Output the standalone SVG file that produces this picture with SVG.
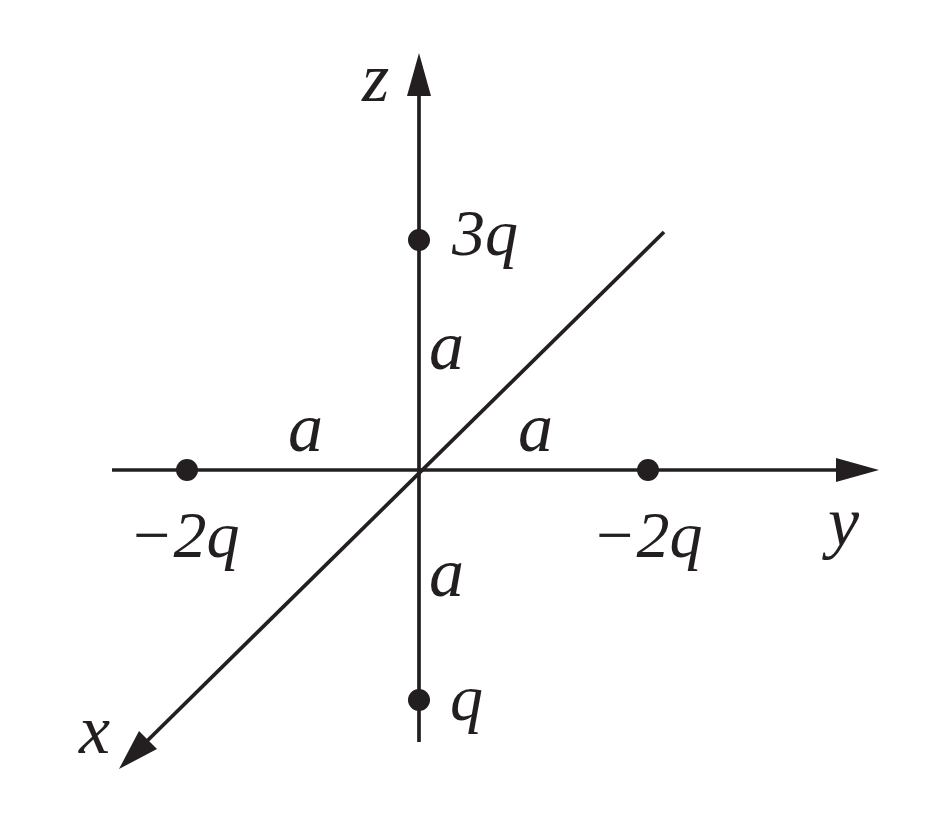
<svg xmlns="http://www.w3.org/2000/svg" width="934" height="827" viewBox="0 0 934 827">
<style>
.ax{stroke:#231f20;stroke-width:3.7;fill:none}
.hd{fill:#231f20}
.dot{fill:#231f20}
text{font-family:"Liberation Serif","Times New Roman",serif;font-style:italic;font-size:66px;fill:#231f20}
.big{font-size:70px}
</style>
<rect width="934" height="827" fill="#fff"/>
<g id="connectors">
<line class="ax" x1="419" y1="742" x2="419" y2="90"/>
<polygon class="hd" points="419,53 407,96 431,96"/>
<line class="ax" x1="112" y1="470" x2="840" y2="470"/>
<polygon class="hd" points="879,470 836,458 836,482"/>
<line class="ax" x1="664" y1="232" x2="145" y2="743"/>
<polygon class="hd" points="119,769 139,731 157,749"/>
</g>
<g id="axis-z"><text class="big" x="362" y="101">z</text></g>
<g id="axis-y"><text class="big" x="828" y="545">y</text></g>
<g id="axis-x"><text class="big" x="79" y="753">x</text></g>
<g id="charge-3q"><circle class="dot" cx="419" cy="240" r="11"/><text x="452" y="255">3q</text></g>
<g id="charge-q"><circle class="dot" cx="419" cy="700" r="11"/><text x="450" y="720">q</text></g>
<g id="charge-left"><circle class="dot" cx="187" cy="470" r="11"/><text x="129" y="557">−2q</text></g>
<g id="charge-right"><circle class="dot" cx="648" cy="470" r="11"/><text x="592" y="557">−2q</text></g>
<g id="labels">
<text class="big" x="429" y="369">a</text>
<text class="big" x="288" y="451">a</text>
<text class="big" x="518" y="451">a</text>
<text class="big" x="429" y="596">a</text>
</g>
</svg>
